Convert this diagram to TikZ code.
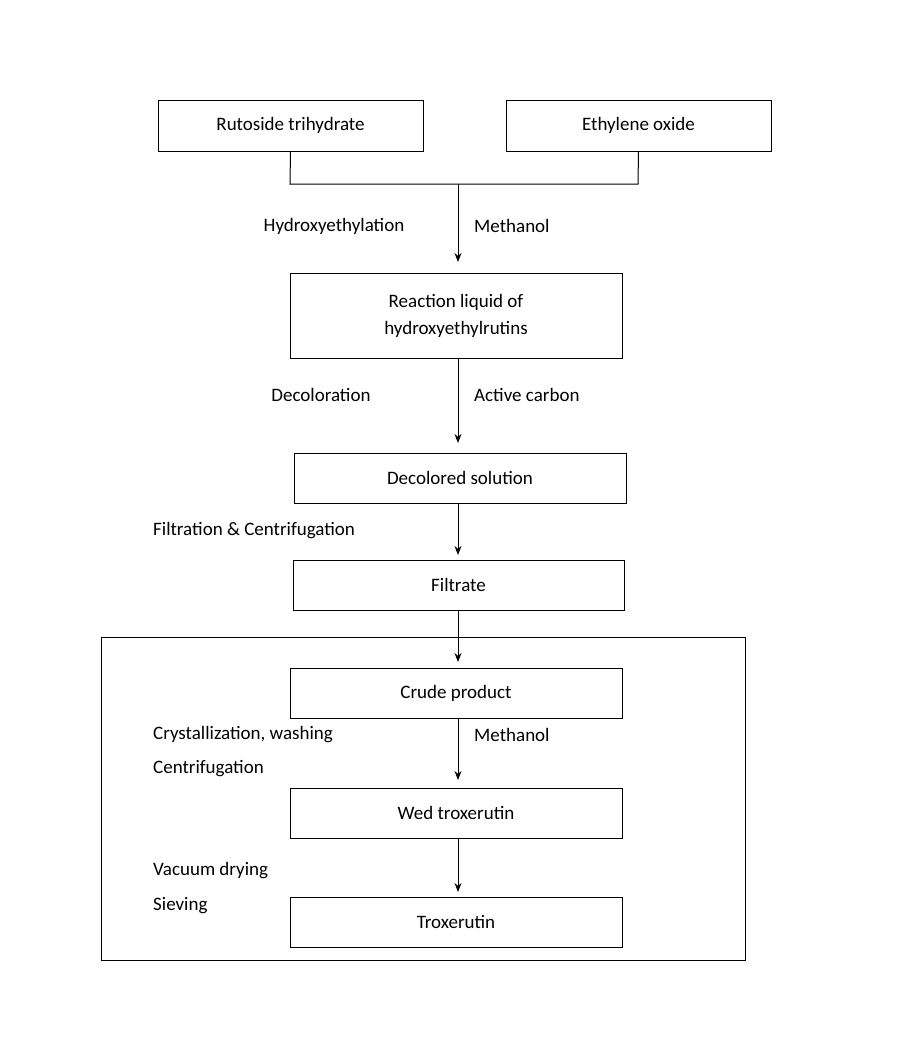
\documentclass[tikz,border=0pt]{standalone}
\usepackage{fontspec}
\setmainfont{Carlito}
\usetikzlibrary{arrows.meta}
\begin{document}
\begin{tikzpicture}[x=1pt,y=-1pt,
  bx/.style={draw,line width=1pt,inner sep=0pt,align=center,font=\fontsize{19}{27}\selectfont},
  lb/.style={inner sep=0pt,font=\fontsize{19}{24}\selectfont},
  ar/.style={-{Stealth[length=9pt,width=7pt]},line width=1pt}]
\useasboundingbox (0,0) rectangle (900,1047);
\node[bx,minimum width=265pt,minimum height=51pt] (rut) at (290.5,125.5) {Rutoside trihydrate};
\node[bx,minimum width=265pt,minimum height=51pt] (eth) at (638.5,125.5) {Ethylene oxide};
\coordinate (jl) at (290,184); \coordinate (jr) at (638,184); \coordinate (jm) at (458,184);
\draw[line width=1pt] (rut.south) -- (jl) -- (jr) -- (eth.south);
\node[bx,minimum width=332pt,minimum height=85pt] (rea) at (456,315.5) {Reaction liquid of\\hydroxyethylrutins};
\draw[ar] (jm) -- (458,262);
\node[lb] (l1) at (334,226) {Hydroxyethylation};
\node[lb,anchor=west] (l2) at (474,226) {Methanol};
\node[bx,minimum width=332pt,minimum height=50pt] (dec) at (460,478) {Decolored solution};
\coordinate (a2) at (458,358);
\draw[ar] (a2) -- (458,443);
\node[lb] (l3) at (321,395) {Decoloration};
\node[lb,anchor=west] (l4) at (474,395) {Active carbon};
\node[bx,minimum width=331pt,minimum height=50pt] (fil) at (458.5,585) {Filtrate};
\draw[ar] (458,503) -- (458,555);
\node[lb,anchor=west] (l5) at (153,531) {Filtration \& Centrifugation};
\node[draw,line width=1pt,minimum width=644pt,minimum height=323pt,inner sep=0pt] (big) at (423,798.5) {};
\draw[ar] (458,610) -- (458,662);
\node[bx,minimum width=332pt,minimum height=50pt] (cru) at (456,693) {Crude product};
\node[bx,minimum width=332pt,minimum height=50pt] (wed) at (456,813) {Wed troxerutin};
\node[bx,minimum width=332pt,minimum height=50pt] (tro) at (456,922) {Troxerutin};
\draw[ar] (458,718) -- (458,780);
\draw[ar] (458,838) -- (458,892);
\node[lb,anchor=west] (l6) at (153,735) {Crystallization, washing};
\node[lb,anchor=west] (l7) at (153,769) {Centrifugation};
\node[lb,anchor=west] (l8) at (474,735) {Methanol};
\node[lb,anchor=west] (l9) at (153,871) {Vacuum drying};
\node[lb,anchor=west] (l10) at (153,906) {Sieving};
\end{tikzpicture}
\end{document}
